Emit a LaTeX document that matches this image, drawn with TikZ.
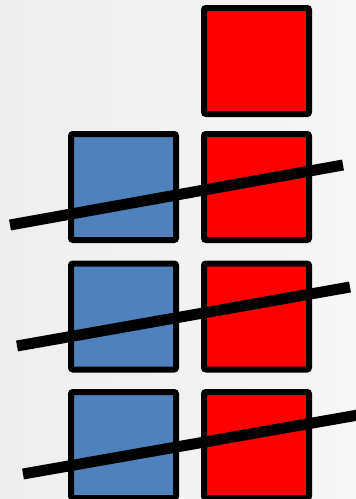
\documentclass[tikz,border=0pt]{standalone}
\definecolor{bgleft}{HTML}{EEEEEE}
\definecolor{bgright}{HTML}{F6F6F6}
\definecolor{sqblue}{HTML}{4F81BD}
\definecolor{sqred}{HTML}{FF0000}
\begin{document}
\begin{tikzpicture}[x=1pt,y=-1pt,
  sq/.style={draw=black, line width=6pt, rounded corners=2pt, minimum width=105pt, minimum height=106pt, inner sep=0pt, outer sep=0pt},
  bluesq/.style={sq, fill=sqblue},
  redsq/.style={sq, fill=sqred},
  bar/.style={line width=11pt, line cap=butt}]
\useasboundingbox (0,0) rectangle (356,499);
\shade[left color=bgleft, right color=bgright] (0,0) rectangle (356,499);
\clip (0,0) rectangle (356,499);
\node[redsq] (r0) at (256.5,61) {};
\node[bluesq] (b1) at (123.5,187) {};
\node[redsq] (r1) at (256.5,187) {};
\node[bluesq] (b2) at (123.5,316.5) {};
\node[redsq] (r2) at (256.5,316.5) {};
\node[bluesq] (b3) at (123.5,445) {};
\node[redsq] (r3) at (256.5,445) {};
\draw[bar] (10,225) -- (343,165);
\draw[bar] (17,346) -- (350,287);
\draw[bar] (23,474) -- (358,415);
\end{tikzpicture}
\end{document}
